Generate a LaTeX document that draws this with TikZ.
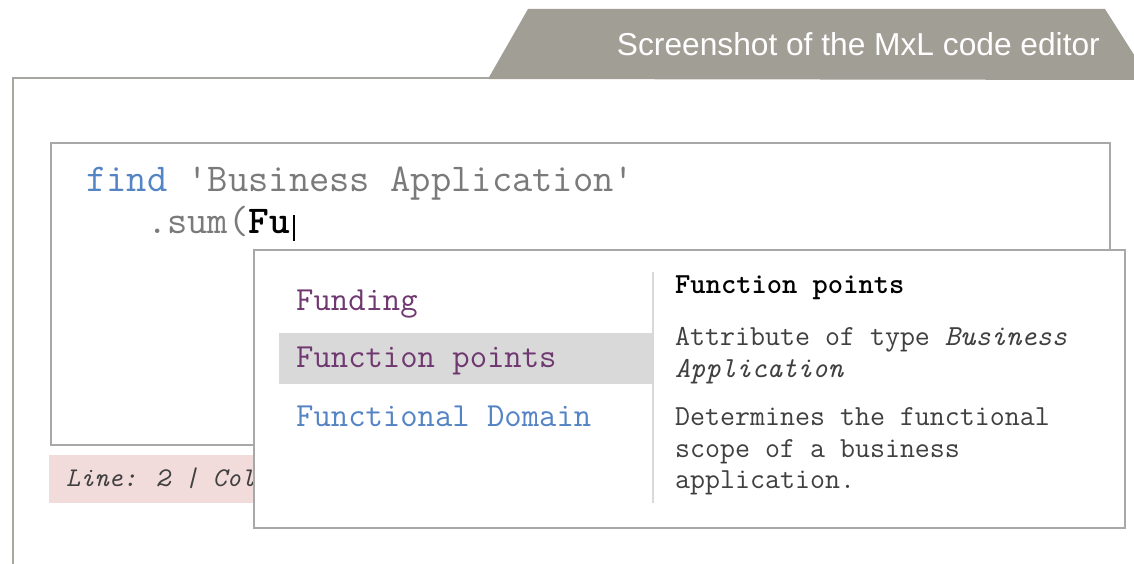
\documentclass[tikz,border=0pt]{standalone}
\usepackage{fontspec}
\newfontfamily\titlefont{Liberation Sans}
\definecolor{tabgray}{RGB}{161,158,150}
\definecolor{framegray}{RGB}{168,166,160}
\definecolor{boxgray}{RGB}{168,168,168}
\definecolor{codegray}{RGB}{122,122,122}
\definecolor{keyblue}{RGB}{84,132,196}
\definecolor{attrpurple}{RGB}{112,56,112}
\definecolor{rowgray}{RGB}{217,217,217}
\definecolor{statuspink}{RGB}{242,220,219}
\definecolor{infogray}{RGB}{64,64,64}
\tikzset{
  codeline/.style={
    anchor=base west,
    inner sep=0,
    font=\ttfamily\fontsize{39.4}{41}\selectfont,
    text=codegray
  },
  listitem/.style={
    anchor=base west,
    inner sep=0,
    font=\ttfamily\fontsize{33.7}{36}\selectfont
  },
  infoline/.style={
    anchor=base west,
    inner sep=0,
    font=\ttfamily\fontsize{29.1}{32}\selectfont,
    text=infogray
  },
  panel/.style={
    draw=boxgray,
    line width=2pt,
    fill=white
  }
}

\begin{document}
\begin{tikzpicture}[x=1pt,y=-1pt]
    \useasboundingbox (0,0) rectangle (1134,564);
    % frame and title tab
    \draw[framegray, line width=2.5pt] (13,564) -- (13,78) -- (1134,78);
    \fill[tabgray] (488,79) -- (528,9) -- (1105,9) -- (1150,80) -- cycle;
    \node[anchor=base east, inner sep=0, text=white,
          font=\titlefont\fontsize{31.7}{36}\selectfont] (title) at (1100,56)
          {Screenshot of the MxL code editor};
    % editor
    \draw[panel] (51,143) rectangle (1110,445);
    \node[codeline] (find) at (86,192) {\textcolor{keyblue}{find} 'Business Application'};
    \node[codeline] (sum) at (86,233) {\ \ \ .sum(\textcolor{black}{\textbf{Fu}}};
    \draw[black, line width=1.6pt] (294,215) -- (294,241);
    % status bar
    \fill[statuspink] (49,455) rectangle (400,503);
    \node[anchor=base west, inner sep=0, text=infogray,
          font=\ttfamily\itshape\fontsize{27}{30}\selectfont] (status) at (66,486)
          {Line: 2 | Colu};
    % completion popup
    \draw[panel] (254,250) rectangle (1125,528);
    \fill[rowgray] (279,333) rectangle (653,384);
    \draw[rowgray, line width=2pt] (653,272) -- (653,503);
    \node[listitem, text=attrpurple] (funding) at (296,310) {Funding};
    \node[listitem, text=attrpurple] (fpoints) at (296,367) {Function points};
    \node[listitem, text=keyblue] (fdomain) at (296,426) {Functional Domain};
    \node[infoline, text=black, font=\ttfamily\bfseries\fontsize{29.1}{32}\selectfont] (head) at (675,293) {Function points};
    \node[infoline] (type1) at (675,345) {Attribute of type \textit{Business}};
    \node[infoline] (type2) at (675,377) {\textit{Application}};
    \node[infoline] (desc1) at (675,425) {Determines the functional};
    \node[infoline] (desc2) at (675,457) {scope of a business};
    \node[infoline] (desc3) at (675,488) {application.};
\end{tikzpicture}
\end{document}
